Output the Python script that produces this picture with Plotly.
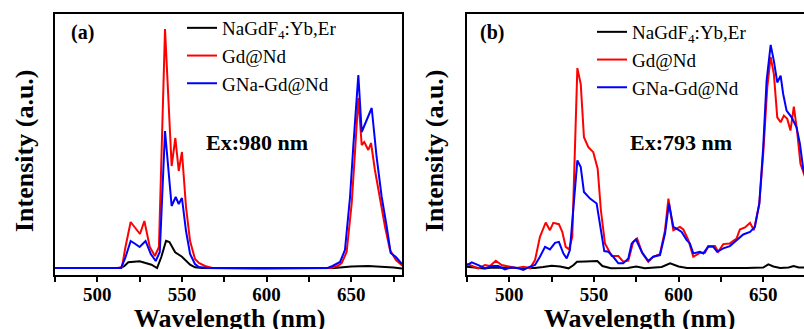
import plotly.graph_objects as go

# ---------------- Panel (a): Ex 980 nm ----------------
wl_a_black = [475, 500, 514, 516, 518.3, 525, 532, 535.3, 537.8, 540.6, 542.6, 546, 550, 554.8,
              557.7, 562, 600, 640, 650, 660, 670, 675, 680]
int_a_black = [0, 0, 0, 2, 5.7, 6.7, 3.3, 0, 11, 27.3, 26, 15.7, 11.3, 3.3,
               0.7, 0, -0.5, 0, 1.5, 2, 1.5, 0.5, -0.5]

wl_a_red = [475, 500, 512, 514.6, 516.5, 519.7, 522.5, 525.2, 527.8, 531, 534, 536.4, 540,
            543.9, 546.1, 548.1, 550, 552.4, 554.8, 557.7, 560, 563.6, 568, 575, 600, 625,
            638, 642, 644.4, 647.3, 650.3, 652.2, 654.2, 656.2, 657.7, 660.1, 661.7, 664,
            667, 670, 672.9, 676.4, 679.8, 680]
int_a_red = [0, 0, 0, 1, 20, 46, 40, 34, 47, 21, 12, 21, 239,
             102, 130, 97, 116, 61, 27, 9, 5, 2, 0, 0, 0, 0,
             0, 2, 5, 16, 65, 115, 170, 123, 126, 118, 125, 98,
             68, 41, 18, 8, 3, 2]

wl_a_blue = [475, 500, 514, 516.5, 519.7, 522.5, 525, 528.5, 531.6, 534.5, 536.9, 540, 543.9,
             546.3, 548.1, 550, 552.4, 554.8, 557.7, 560, 565, 600, 636, 639, 643.4, 646.3,
             649.3, 651.2, 654.2, 656.2, 662.1, 665, 668, 671, 673.3, 676.4, 679.8, 680]
int_a_blue = [0, 0, 0, 10, 27, 24, 21, 27, 14, 7, 16, 137, 62,
              71, 64, 70, 37, 14, 4, 1, 0, 0, 0, 2, 6, 18,
              71, 121, 193, 136, 160, 111, 71, 41, 15, 11, 5, 4]

# ---------------- Panel (b): Ex 793 nm ----------------
wl_b_black = [475, 480, 485, 490, 500, 510, 515, 520, 525, 530, 535, 538, 540, 545, 550, 552,
              555, 560, 570, 575, 580, 590, 595, 600, 605, 620, 640, 650, 653, 656, 660, 665,
              668, 671, 676]
int_b_black = [1.3, 0.5, -0.5, 0.5, 0, 0, 0, 1, 2.3, 1.5, -0.3, 3, 6.3, 6.5, 6.5, 7,
               2, -0.3, 0, 1.5, -0.3, 1, 4.7, 1.5, 0, -0.3, 0, 0.5, 3.7, 1.5, 0, 0.5,
               2, 0.5, 0.5]

wl_b_red = [475, 477.8, 481.7, 485.6, 488.6, 492, 495.5, 500.4, 504.4, 508.3, 512.2, 515.2,
            518.1, 521.5, 524, 526, 529.3, 531.3, 533.3, 535.3, 537.2, 540.2, 542.2, 544.1,
            546.7, 549.6, 552.2, 554.1, 556.5, 560.5, 564.4, 567.3, 570.3, 573.2, 575.5,
            578.6, 582.1, 585, 589, 592, 594, 596.9, 600.8, 602.8, 605.8, 608.7, 612.6,
            615.6, 617.5, 621.5, 623.4, 626.4, 630.3, 634.3, 636.2, 639.2, 642.2, 644.5,
            647.7, 650, 652.4, 654.4, 656.3, 658.3, 660.3, 662.2, 664.2, 666.1, 668.1, 670,
            672, 673.6, 676]
int_b_red = [4, 2, -0.3, 3, 2, 7.3, 3, 1.3, -0.3, 1.3, -0.3, 8,
             31.3, 45.7, 38, 45.3, 44, 36.3, 21.3, 18.7, 31.3, 200.7, 184.7, 131.3,
             121.3, 116.3, 99.7, 58, 24.7, 12, 12, 6.3, 7.3, 26.3, 29.7,
             14.7, 6.3, 11.3, 14, 38, 69.7, 38, 41.3, 38.7, 28, 11.3, 15.3,
             15.3, 22, 22, 16.3, 24, 24.7, 29.7, 38.7, 40.7, 45.3, 38,
             64.7, 114.7, 181.3, 212, 194.7, 151.3, 146.3, 153, 149.7, 138, 162, 138,
             104.7, 97, 85]

wl_b_blue = [475, 477.8, 481.7, 485.6, 489.5, 493.5, 497.4, 501.3, 505.3, 508.3, 511.2, 515.2,
             518.1, 521.1, 524, 527, 529.3, 531.9, 533.9, 535.8, 540.2, 542.2, 544.1, 547.7,
             551.6, 553.5, 556.1, 558.5, 561.4, 564.4, 567.3, 570.3, 572.3, 574.8, 578.2,
             582.1, 585, 589, 592, 594.3, 596.9, 600.2, 601.8, 604.8, 606.7, 608.7, 612.6,
             614.6, 617.5, 620.5, 622.8, 626.4, 630.3, 634.3, 638.2, 642.2, 645.1, 647.7,
             650, 652, 654.4, 656.3, 658.3, 660.3, 661.8, 663.8, 666.8, 669.7, 671.7, 673.6,
             676]
int_b_blue = [3, 5.7, 3, -0.3, 2, 2, -1.3, 0.7, -0.3, -2, 0.7, 3,
              11.3, 21.3, 18.7, 25.3, 26.3, 14.7, 9.7, 18, 108, 101.3, 76.3, 69.7,
              64.7, 44.7, 17, 16.3, 11.3, 4.7, 4.7, 9.7, 24.7, 28.7, 16.3,
              7, 11.3, 13, 34.7, 64.7, 41.3, 38, 36.3, 28, 24.7, 14.7, 16.3,
              14.7, 21.3, 21.3, 16.3, 19.7, 22, 28, 33.7, 36.3, 41.3, 64.7,
              121.3, 188, 224, 208, 186.3, 193, 174.7, 158, 151.3, 141.3, 124.7, 100,
              85]

series_names = ["NaGdF<sub>4</sub>:Yb,Er", "Gd@Nd", "GNa-Gd@Nd"]
series_colors = ["#000000", "#ff0000", "#0000ff"]
ex_labels = ["Ex:980 nm", "Ex:793 nm"]
panel_labels = ["(a)", "(b)"]
x_ticks = [500, 550, 600, 650]

W, H = 804, 329
FONT = "Times New Roman, Liberation Serif, serif"

def px(x):
    return x / W

def py(y):
    return 1 - y / H

fig = go.Figure()

panel_a = [(wl_a_black, int_a_black), (wl_a_red, int_a_red), (wl_a_blue, int_a_blue)]
panel_b = [(wl_b_black, int_b_black), (wl_b_red, int_b_red), (wl_b_blue, int_b_blue)]

for i, (xs, ys) in enumerate(panel_a):
    fig.add_trace(go.Scatter(x=xs, y=ys, mode="lines", name=series_names[i],
                             line=dict(color=series_colors[i], width=2),
                             xaxis="x", yaxis="y", legend="legend", legendgroup=f"a{i}"))
for i, (xs, ys) in enumerate(panel_b):
    fig.add_trace(go.Scatter(x=xs, y=ys, mode="lines", name=series_names[i],
                             line=dict(color=series_colors[i], width=2),
                             xaxis="x2", yaxis="y2", legend="legend2", legendgroup=f"b{i}"))

ydom = [1 - 275 / H, 1 - 14 / H]
common_x = dict(showline=True, linewidth=2, linecolor="black", mirror=True,
                ticks="outside", ticklen=5, tickwidth=1.5, tickcolor="black",
                tickvals=x_ticks, ticktext=[f"<b>{t}</b>" for t in x_ticks],
                ticklabelstandoff=-4,
                minor=dict(tickvals=[475, 525, 575, 625, 675], ticks="outside",
                           ticklen=5, tickwidth=1.5, tickcolor="black"),
                showgrid=False, zeroline=False,
                tickfont=dict(family=FONT, size=19, color="black"))
common_y = dict(showline=True, linewidth=2, linecolor="black", ticks="",
                showticklabels=False, showgrid=False, zeroline=False, domain=ydom)

fig.update_layout(
    width=W, height=H, margin=dict(l=0, r=0, t=0, b=0),
    paper_bgcolor="white", plot_bgcolor="white",
    xaxis=dict(domain=[55 / W, 402 / W], range=[475, 680], anchor="y", **common_x),
    yaxis=dict(range=[-7, 254], anchor="x", mirror=True, **common_y),
    xaxis2=dict(domain=[467 / W, 1.0], range=[475, 674.1], anchor="y2", **common_x),
    yaxis2=dict(range=[-7, 255], anchor="x2", mirror=False, **common_y),
    legend=dict(x=px(182), y=py(9), xanchor="left", yanchor="top",
                bgcolor="rgba(0,0,0,0)", borderwidth=0, tracegroupgap=0,
                font=dict(family=FONT, size=19, color="black")),
    legend2=dict(x=px(592), y=py(13), xanchor="left", yanchor="top",
                 bgcolor="rgba(0,0,0,0)", borderwidth=0, tracegroupgap=0,
                 font=dict(family=FONT, size=19, color="black")),
    showlegend=True,
)

ann = []
for k, (lx, ex_x, ytitle_x, xtitle_x) in enumerate([(69, 204, 24, 229), (478, 628, 434, 639)]):
    ann.append(dict(text=f"<b>{panel_labels[k]}</b>", x=px(lx), y=py(32), xref="paper", yref="paper",
                    xanchor="left", yanchor="middle", showarrow=False,
                    font=dict(family=FONT, size=20, color="black")))
    ann.append(dict(text=f"<b>{ex_labels[k]}</b>", x=px(ex_x), y=py(142), xref="paper", yref="paper",
                    xanchor="left", yanchor="middle", showarrow=False,
                    font=dict(family=FONT, size=22, color="black")))
    ann.append(dict(text="<b>Intensity (a.u.)</b>", x=px(ytitle_x), y=py(151), xref="paper", yref="paper",
                    xanchor="center", yanchor="middle", textangle=-90, showarrow=False,
                    font=dict(family=FONT, size=26, color="black")))
    ann.append(dict(text="<b>Wavelength (nm)</b>", x=px(xtitle_x), y=py(318), xref="paper", yref="paper",
                    xanchor="center", yanchor="middle", showarrow=False,
                    font=dict(family=FONT, size=26, color="black")))
fig.update_layout(annotations=ann)

fig.write_html("out.html", config={"displayModeBar": False},
               post_script="document.body.style.margin='0px';document.body.style.overflow='hidden';")
